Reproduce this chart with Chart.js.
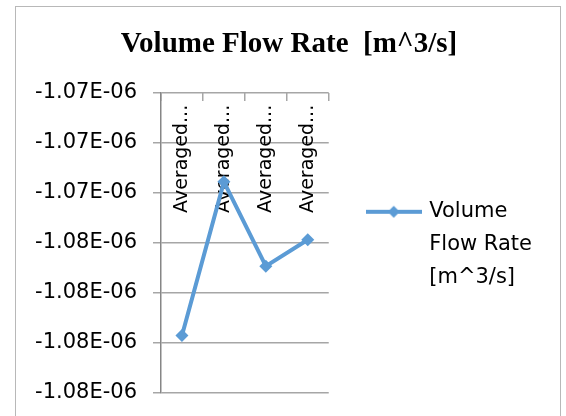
<!DOCTYPE html>
<html>
<head>
<meta charset="utf-8">
<script src="https://cdn.jsdelivr.net/npm/chart.js@4"></script>
<style>
  html, body { margin: 0; padding: 0; background: #fff; overflow: hidden; }
  #frame {
    position: absolute; left: 15px; top: 6px;
    width: 544px; height: 430px;
    border: 1px solid #b8b8b8;
  }
  #chart { position: absolute; left: 0; top: 0; }
</style>
</head>
<body>
<div id="frame"></div>
<canvas id="chart" width="566" height="416"></canvas>
<script>
// data
const categories = ['Averaged...', 'Averaged...', 'Averaged...', 'Averaged...'];
const flowRate = [-1.07686e-6, -1.07378e-6, -1.07547e-6, -1.07494e-6];
const seriesName = 'Volume Flow Rate  [m^3/s]';
const legendLines = ['Volume', 'Flow Rate', '[m^3/s]'];
const yMin = -1.078e-6;
const yMax = -1.072e-6;
const yStep = 1e-9;
// tick labels bottom -> top, as Excel rounded them
const yTickLabels = ['-1.08E-06', '-1.08E-06', '-1.08E-06', '-1.08E-06', '-1.07E-06', '-1.07E-06', '-1.07E-06'];

const blue = '#5b9bd5';
const gridGrey = '#a6a6a6';
const sans = "'DejaVu Sans', sans-serif";

// legend icon: short line with a diamond, like Excel's
function legendIcon() {
  const c = document.createElement('canvas');
  c.width = 56;
  c.height = 14;
  const g = c.getContext('2d');
  g.strokeStyle = blue;
  g.lineWidth = 4;
  g.beginPath();
  g.moveTo(0, 7);
  g.lineTo(56, 7);
  g.stroke();
  g.fillStyle = blue;
  g.beginPath();
  g.moveTo(28, 1);
  g.lineTo(34, 7);
  g.lineTo(28, 13);
  g.lineTo(22, 7);
  g.closePath();
  g.fill();
  return c;
}

const ctx = document.getElementById('chart').getContext('2d');

new Chart(ctx, {
  type: 'line',
  data: {
    labels: categories,
    datasets: [{
      label: seriesName,
      data: flowRate,
      borderColor: blue,
      backgroundColor: blue,
      borderWidth: 4,
      tension: 0,
      pointStyle: 'rectRot',
      pointRadius: 6.5,
      pointBorderWidth: 0,
      pointBackgroundColor: blue
    }]
  },
  options: {
    responsive: false,
    animation: false,
    layout: { padding: { left: 36, right: 24, top: 0, bottom: 23.5 } },
    scales: {
      x: {
        type: 'category',
        position: 'top',
        offset: true,
        grid: {
          drawOnChartArea: false,
          drawTicks: true,
          tickLength: -8,
          offset: true,
          color: gridGrey,
          lineWidth: 1.5
        },
        border: { display: false },
        ticks: {
          autoSkip: false,
          minRotation: 90,
          maxRotation: 90,
          mirror: true,
          padding: 120,
          color: '#000',
          font: { family: sans, size: 19 }
        },
        afterFit: scale => { scale.height = 0; }
      },
      y: {
        min: yMin,
        max: yMax,
        ticks: {
          stepSize: yStep,
          padding: 16,
          color: '#000',
          font: { family: sans, size: 21 },
          callback: (value, index) => yTickLabels[index]
        },
        grid: { color: gridGrey, lineWidth: 1.5, tickLength: 8 },
        border: { color: '#868686', width: 1.5 },
        afterFit: scale => {
          scale.width = 125;
          scale.paddingTop = 0;
          scale.paddingBottom = 0;
        }
      }
    },
    plugins: {
      title: {
        display: true,
        text: seriesName,
        color: '#000',
        font: { family: "'Liberation Serif', serif", size: 29, weight: 'bold', lineHeight: 1.2 },
        padding: { top: 27, bottom: 31.2 }
      },
      legend: {
        position: 'right',
        fullSize: false,
        maxWidth: 300,
        title: { display: true, text: '', padding: 0, font: { size: 14, lineHeight: 1.15 } },
        labels: {
          usePointStyle: true,
          pointStyle: legendIcon(),
          pointStyleWidth: 50,
          padding: 40,
          color: '#000',
          font: { family: sans, size: 21, lineHeight: 33 / 21 },
          generateLabels: chart => Chart.defaults.plugins.legend.labels.generateLabels(chart)
            .map(item => Object.assign(item, { text: legendLines }))
        }
      },
      tooltip: { enabled: false }
    }
  }
});
</script>
</body>
</html>
